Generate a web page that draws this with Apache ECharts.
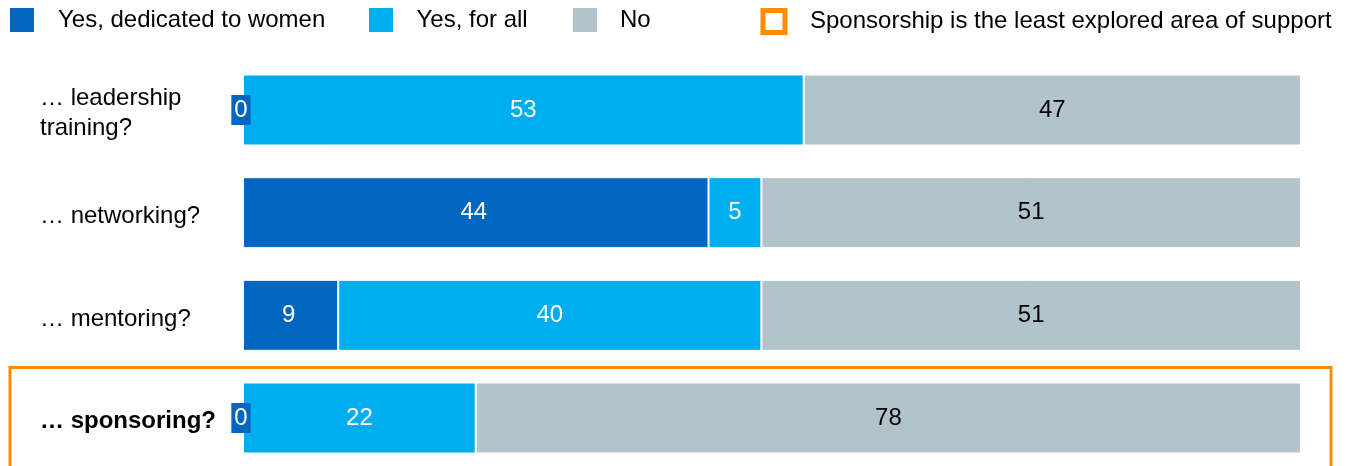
<!DOCTYPE html>
<html><head><meta charset="utf-8">
<script src="https://cdn.jsdelivr.net/npm/echarts@6/dist/echarts.min.js"></script>
<style>html,body{margin:0;padding:0;background:#fff}#c{width:1346px;height:466px}</style>
</head><body><div id="c"></div>
<script>
const categories = ['… leadership\ntraining?', '… networking?', '… mentoring?', '… sponsoring?'];
const seriesNames = ['Yes, dedicated to women', 'Yes, for all', 'No'];
const dedicatedToWomen = [0, 44, 9, 0];
const forAll = [53, 5, 40, 22];
const no = [47, 51, 51, 78];
const highlightLabel = 'Sponsorship is the least explored area of support';

const C_DARK = '#0066C0', C_LIGHT = '#00AEEF', C_GREY = '#B3C3CC', C_ORANGE = '#FF8C00';
const FONT = 'Liberation Sans, Arial, sans-serif';

const chart = echarts.init(document.getElementById('c'), null, {renderer: 'canvas'});

function barSeries(name, data, color, labelColor, extraLabel) {
  return {
    name, type: 'bar', stack: 'total', data, barWidth: 71,
    itemStyle: {color, borderColor: '#fff', borderWidth: 1},
    label: Object.assign({show: true, position: 'inside', color: labelColor, fontSize: 24, fontFamily: FONT}, extraLabel || {}),
    emphasis: {disabled: true}
  };
}

function legendAt(left, name, itemStyle, iw, ih, gap) {
  return {
    data: [{name, itemStyle}],
    left, top: 3, icon: 'rect', itemWidth: iw, itemHeight: ih,
    selectedMode: false,
    textStyle: {fontSize: 24, fontFamily: FONT, color: '#000', padding: [4, 0, 0, gap]}
  };
}

chart.setOption({
  animation: false,
  textStyle: {fontFamily: FONT},
  legend: [
    legendAt(5, seriesNames[0], {color: C_DARK, borderWidth: 0}, 24, 24, 19),
    legendAt(364, seriesNames[1], {color: C_LIGHT, borderWidth: 0}, 24, 24, 18.5),
    legendAt(568, seriesNames[2], {color: C_GREY, borderWidth: 0}, 24, 24, 18),
    legendAt(755.5, highlightLabel, {color: '#fff', borderColor: C_ORANGE, borderWidth: 5}, 22, 22, 20)
  ],
  grid: {left: 243, right: 45, top: 62.2, height: 410.7, outerBoundsMode: 'none', containLabel: false},
  xAxis: {type: 'value', min: 0, max: 100, show: false},
  yAxis: {
    type: 'category', data: categories, inverse: true,
    axisLine: {show: false}, axisTick: {show: false},
    axisLabel: {
      align: 'left', margin: 203, fontSize: 24, color: '#000', lineHeight: 30,
      fontFamily: FONT,
      formatter: (v, i) => i === 3 ? '{b|' + v + '}' : v,
      rich: {b: {fontWeight: 'bold', fontSize: 24, color: '#000', fontFamily: FONT}}
    }
  },
  series: [
    barSeries(seriesNames[0], dedicatedToWomen, C_DARK, '#fff', {backgroundColor: C_DARK, padding: [4, 3, 2, 3], offset: [-2, 0]}),
    barSeries(seriesNames[1], forAll, C_LIGHT, '#fff'),
    barSeries(seriesNames[2], no, C_GREY, '#000'),
    {name: highlightLabel, type: 'bar', data: [], itemStyle: {color: '#fff', borderColor: C_ORANGE, borderWidth: 5}}
  ],
  graphic: [{
    type: 'rect', silent: true, z: 100,
    shape: {x: 10, y: 367.5, width: 1321, height: 120},
    style: {fill: 'none', stroke: C_ORANGE, lineWidth: 3}
  }]
});
</script></body></html>
